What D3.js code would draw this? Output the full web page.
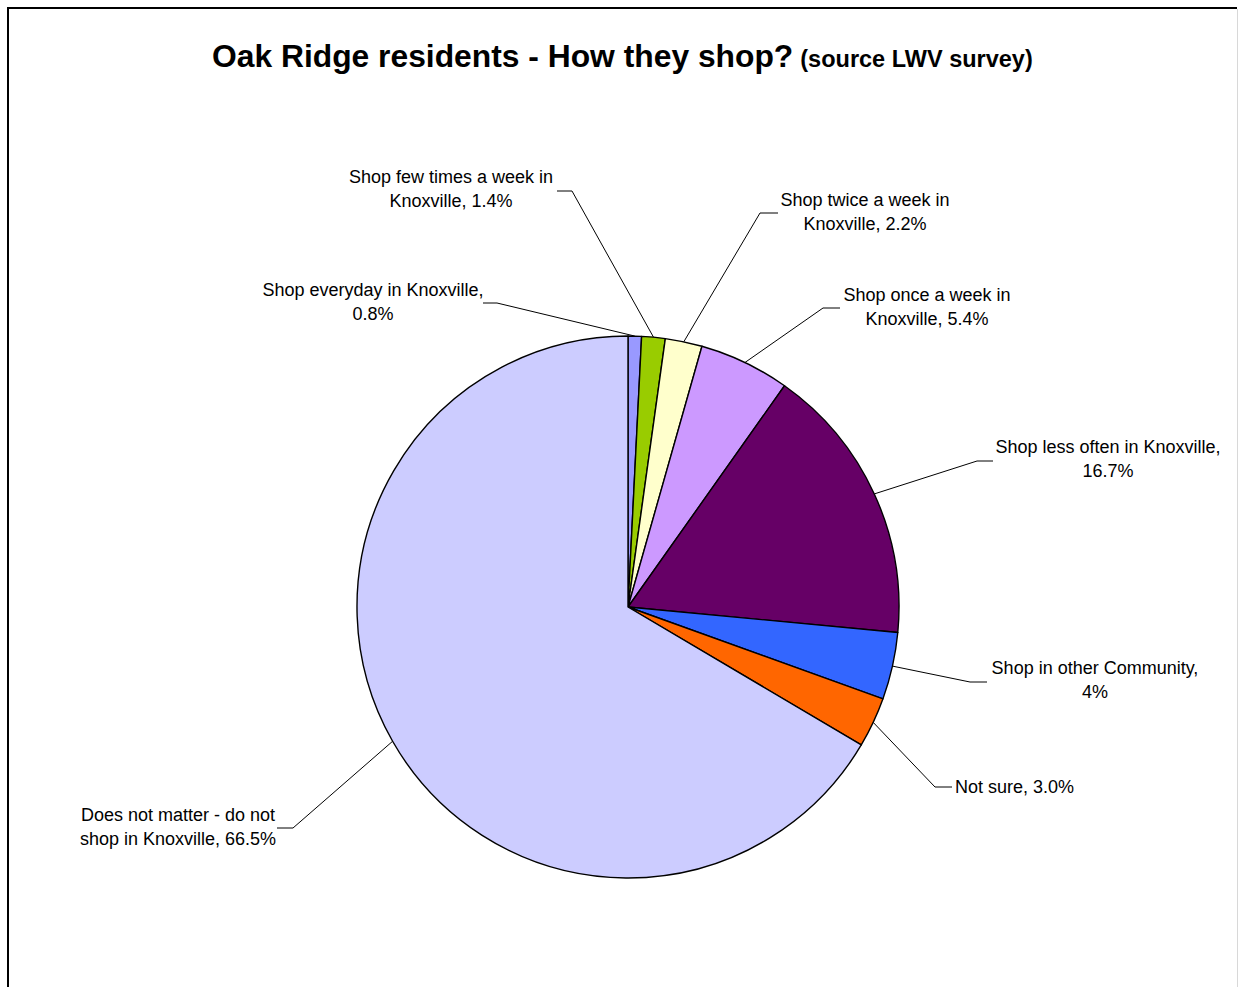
<!DOCTYPE html>
<html>
<head>
<meta charset="utf-8">
<script src="https://cdn.jsdelivr.net/npm/d3@7"></script>
<style>
  body { margin: 0; background: #fff; }
  svg { display: block; font-family: "Liberation Sans", Arial, sans-serif; }
</style>
</head>
<body>
<div id="container"></div>
<script>
// data
const categories = [
    "Shop everyday in Knoxville",
    "Shop few times a week in Knoxville",
    "Shop twice a week in Knoxville",
    "Shop once a week in Knoxville",
    "Shop less often in Knoxville",
    "Shop in other Community",
    "Not sure",
    "Does not matter - do not shop in Knoxville"
];
const values = [0.8, 1.4, 2.2, 5.4, 16.7, 4, 3.0, 66.5];
const valueLabels = ["0.8%", "1.4%", "2.2%", "5.4%", "16.7%", "4%", "3.0%", "66.5%"];
const labelLines = [
    ["Shop everyday in Knoxville,", "0.8%"],
    ["Shop few times a week in", "Knoxville, 1.4%"],
    ["Shop twice a week in", "Knoxville, 2.2%"],
    ["Shop once a week in", "Knoxville, 5.4%"],
    ["Shop less often in Knoxville,", "16.7%"],
    ["Shop in other Community,", "4%"],
    ["Not sure, 3.0%"],
    ["Does not matter - do not", "shop in Knoxville, 66.5%"]
];
const colors = ["#9999FF", "#99CC00", "#FFFFCC", "#CC99FF", "#660066", "#3366FF", "#FF6600", "#CCCCFF"];

// label layout: text anchor point, elbow of leader, end of horizontal stub
const labelLayout = [
    { x: 373, y: 296, anchor: "middle", elbow: [497, 303], stub: [483, 303] },
    { x: 451, y: 183, anchor: "middle", elbow: [572, 191], stub: [557, 191] },
    { x: 865, y: 206, anchor: "middle", elbow: [760, 213], stub: [778, 213] },
    { x: 927, y: 301, anchor: "middle", elbow: [823, 308], stub: [840, 308] },
    { x: 1108, y: 453, anchor: "middle", elbow: [977, 461], stub: [993, 461] },
    { x: 1095, y: 674, anchor: "middle", elbow: [970, 682], stub: [987, 682] },
    { x: 955, y: 793, anchor: "start", elbow: [935, 787], stub: [952, 787] },
    { x: 178, y: 821, anchor: "middle", elbow: [293, 828], stub: [277, 828] }
];

const w = 1238;
const h = 987;
const cx = 628;
const cy = 607;
const r = 271;

const svg = d3.select("#container")
    .append("svg")
    .attr("width", w)
    .attr("height", h);

svg.append("rect").attr("width", w).attr("height", h).attr("fill", "#fff");

// frame
svg.append("path")
    .attr("d", `M8,${h} L8,8 L1237,8`)
    .attr("fill", "none")
    .attr("stroke", "#000")
    .attr("stroke-width", 2);
svg.append("line")
    .attr("x1", 1237.5).attr("x2", 1237.5).attr("y1", 9).attr("y2", h)
    .attr("stroke", "#d8d8d8");

// title
const title = svg.append("text")
    .attr("x", 212)
    .attr("y", 67)
    .attr("font-weight", "bold")
    .attr("fill", "#000");
title.append("tspan").attr("font-size", "31.8px").text("Oak Ridge residents - How they shop?");
title.append("tspan").attr("font-size", "23.5px").attr("dx", 7).text("(source LWV survey)");

const data = categories.map((c, i) => ({ name: c, value: values[i], label: valueLabels[i], lines: labelLines[i], color: colors[i], layout: labelLayout[i] }));

const pie = d3.pie()
    .sort(null)
    .value((d) => d.value);

const arc = d3.arc().innerRadius(0).outerRadius(r);

const g = svg.append("g").attr("transform", `translate(${cx},${cy})`);

const arcs = pie(data);

g.selectAll(".slice")
    .data(arcs)
    .enter().append("path")
    .attr("class", "slice")
    .attr("d", arc)
    .attr("fill", (d) => d.data.color)
    .attr("stroke", "#000")
    .attr("stroke-width", 1.4)
    .attr("stroke-linejoin", "round");

// leader lines
const edgeArc = d3.arc().innerRadius(r).outerRadius(r);
svg.selectAll(".leader")
    .data(arcs)
    .enter().append("polyline")
    .attr("class", "leader")
    .attr("points", (d) => {
        const p = edgeArc.centroid(d);
        const L = d.data.layout;
        return [[cx + p[0], cy + p[1]], L.elbow, L.stub].map((q) => q.join(",")).join(" ");
    })
    .attr("fill", "none")
    .attr("stroke", "#000")
    .attr("stroke-width", 1);

// labels
const labels = svg.selectAll(".label")
    .data(arcs)
    .enter().append("text")
    .attr("class", "label")
    .attr("font-size", "18px")
    .attr("fill", "#000")
    .attr("text-anchor", (d) => d.data.layout.anchor);

labels.selectAll("tspan")
    .data((d) => d.data.lines.map((t) => ({ t: t, L: d.data.layout })))
    .enter().append("tspan")
    .attr("x", (d) => d.L.x)
    .attr("y", (d, i) => d.L.y + i * 24)
    .text((d) => d.t);
</script>
</body>
</html>
